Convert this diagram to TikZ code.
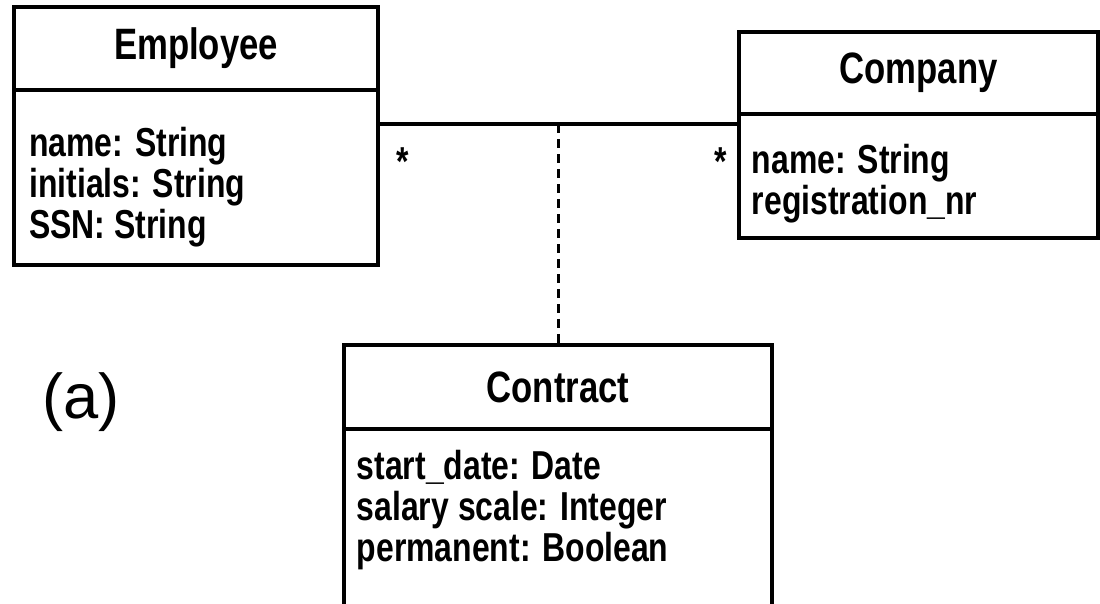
\documentclass[tikz,border=0pt]{standalone}
\usepackage{fontspec}
\setmainfont{Liberation Sans}
\newfontfamily\umlfont[FakeStretch=0.79]{Liberation Sans}
\usepackage{tikz}
\usetikzlibrary{calc,positioning}
\tikzset{
    class title/.style={
        draw,line width=2.2pt,outer sep=0pt,
        fill=white,
        font=\umlfont\bfseries\fontsize{25pt}{26pt}\selectfont
    },
    class body/.style={
        draw,line width=2.2pt,outer sep=0pt,
        fill=white,anchor=north
    },
    attribute list/.style={
        anchor=north west,align=left,inner sep=0pt,
        font=\umlfont\bfseries\fontsize{23pt}{23.4pt}\selectfont
    },
    multiplicity/.style={
        anchor=base,inner sep=0pt,
        font=\umlfont\bfseries\fontsize{23pt}{23.4pt}\selectfont
    },
    association/.style={line width=2.2pt},
    link/.style={line width=1.7pt,dash pattern=on 0.18cm off 0.12cm}
}

\begin{document}
\begin{tikzpicture}
\useasboundingbox (0,0) rectangle (22,-12.06);
\clip (0,0) rectangle (22,-12.06);

% the three classes: name compartment on top, attributes below
\node[class title,minimum width=7.28cm,minimum height=1.66cm] (employee) at (3.92,-0.97) {Employee};
\node[class body,minimum width=7.28cm,minimum height=3.5cm] (employee body) at (employee.south) {};
\node[attribute list] (employee attrs) at ($(employee body.north west)+(0.3,-0.73)$)
    {name: String\\initials: String\\SSN: String};

\node[class title,minimum width=7.18cm,minimum height=1.64cm] (company) at (18.37,-1.46) {Company};
\node[class body,minimum width=7.18cm,minimum height=2.48cm] (company body) at (company.south) {};
\node[attribute list] (company attrs) at ($(company body.north west)+(0.25,-0.59)$)
    {name: String\\registration\_nr};

\node[class title,minimum width=8.56cm,minimum height=1.68cm] (contract) at (11.16,-7.74) {Contract};
\node[class body,minimum width=8.56cm,minimum height=4cm] (contract body) at (contract.south) {};
\node[attribute list] (contract attrs) at ($(contract body.north west)+(0.25,-0.41)$)
    {start\_date: Date\\salary scale: Integer\\permanent: Boolean};

% association with its class
\coordinate (assoc end) at ($(company body.north west)+(0,-0.2)$);
\draw[association] (employee body.east |- assoc end) -- (assoc end);
\draw[link] (contract.north |- assoc end) -- (contract.north);
\node[multiplicity] (employee mult) at ($(employee body.east |- assoc end)+(0.5,-1.02)$) {*};
\node[multiplicity] (company mult) at ($(assoc end)+(-0.36,-1.02)$) {*};

\node[font=\fontsize{36pt}{40pt}\selectfont] (part label) at (1.62,-8.04) {(a)};
\end{tikzpicture}
\end{document}
